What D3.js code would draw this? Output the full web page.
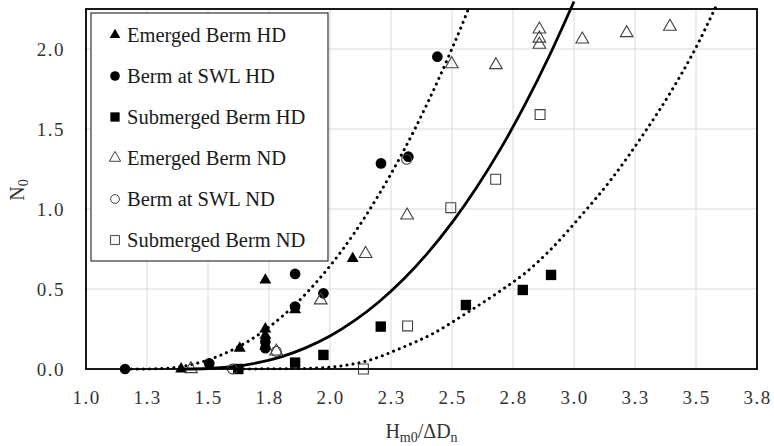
<!DOCTYPE html>
<html>
<head>
<meta charset="utf-8">
<script src="https://cdn.jsdelivr.net/npm/d3@7"></script>
<style>
  html, body { margin: 0; padding: 0; background: #fff; }
  svg { display: block; }
</style>
</head>
<body>
<svg id="chart" width="774" height="446"></svg>
<script>
// Damage number N0 against stability number Hm0/ΔDn
const emergedHD = [[1.39,0.0],[1.63,0.13],[1.735,0.556],[1.735,0.25],[1.735,0.21],[1.735,0.14],[1.857,0.37],[2.093,0.69]];
const swlHD = [[1.16,0.0],[1.505,0.035],[1.735,0.17],[1.735,0.13],[1.857,0.594],[1.857,0.39],[1.973,0.473],[2.209,1.285],[2.321,1.327],[2.44,1.952]];
const submergedHD = [[1.624,0.0],[1.857,0.04],[1.973,0.088],[2.208,0.265],[2.557,0.4],[2.79,0.494],[2.906,0.588]];
const emergedND = [[1.43,0.0],[1.78,0.11],[1.962,0.43],[2.146,0.72],[2.316,0.96],[2.499,1.906],[2.68,1.9],[2.858,2.123],[2.858,2.066],[2.858,2.028],[3.034,2.06],[3.216,2.1],[3.393,2.14]];
const swlND = [[1.6,0.0],[1.78,0.11],[2.314,1.31]];
const submergedND = [[2.137,0.0],[2.318,0.269],[2.495,1.008],[2.679,1.186],[2.861,1.59]];

// Fitted design curves (upper dotted, mean solid, lower dotted)
const upperCurve = [[1.16,0],[1.25,0],[1.35,0.007],[1.45,0.034],[1.55,0.085],[1.65,0.16],[1.75,0.262],[1.85,0.392],[1.95,0.553],[2.05,0.743],[2.15,0.966],[2.25,1.22],[2.35,1.507],[2.45,1.829],[2.55,2.184],[2.57,2.26]];
const meanCurve = [[1.4,0],[1.5,0.003],[1.6,0.014],[1.7,0.038],[1.8,0.076],[1.9,0.132],[2.0,0.206],[2.1,0.302],[2.2,0.419],[2.3,0.559],[2.4,0.724],[2.5,0.915],[2.6,1.133],[2.7,1.379],[2.8,1.655],[2.9,1.961],[3.0,2.297]];
const lowerCurve = [[1.62,0],[1.9,0.004],[2.05,0.02],[2.15,0.05],[2.29,0.13],[2.42,0.22],[2.56,0.35],[2.7,0.49],[2.8,0.6],[2.9,0.74],[3.03,0.96],[3.15,1.18],[3.29,1.48],[3.4,1.74],[3.5,2.01],[3.58,2.26]];

const xTicks = [1.0,1.25,1.5,1.75,2.0,2.25,2.5,2.75,3.0,3.25,3.5,3.75];
const xTickLabels = ["1.0","1.3","1.5","1.8","2.0","2.3","2.5","2.8","3.0","3.3","3.5","3.8"];
const yTicks = [0,0.5,1.0,1.5,2.0];
const yTickLabels = ["0.0","0.5","1.0","1.5","2.0"];

const seriesNames = ["Emerged Berm HD","Berm at SWL HD","Submerged Berm HD","Emerged Berm ND","Berm at SWL ND","Submerged Berm ND"];

const FONT = "'Liberation Serif', 'Times New Roman', serif";
const svg = d3.select("#chart");
const plotLeft = 86, plotRight = 757, plotTop = 9, plotBottom = 369;

const x = d3.scaleLinear().domain([1.0, 3.75]).range([plotLeft, plotRight]);
const y = d3.scaleLinear().domain([0, 2.25]).range([plotBottom, plotTop]);

// gridlines
const grid = svg.append("g");
grid.selectAll("line.v").data(xTicks.slice(1, -1)).join("line")
  .attr("class", "v")
  .attr("x1", d => x(d)).attr("x2", d => x(d))
  .attr("y1", plotTop).attr("y2", plotBottom)
  .attr("stroke", "#d9d9d9").attr("stroke-width", 1);
grid.selectAll("line.h").data(yTicks.slice(1)).join("line")
  .attr("class", "h")
  .attr("x1", plotLeft).attr("x2", plotRight)
  .attr("y1", d => y(d)).attr("y2", d => y(d))
  .attr("stroke", "#d9d9d9").attr("stroke-width", 1);

// axes (labels only)
const xAxis = d3.axisBottom(x).tickValues(xTicks)
  .tickFormat((d, i) => xTickLabels[i]).tickSize(0).tickPadding(0);
const gx = svg.append("g").attr("transform", `translate(0,${plotBottom})`).call(xAxis);
gx.select(".domain").remove();
gx.selectAll("text").attr("y", 35).attr("dy", 0)
  .style("font-family", FONT).style("font-size", "19px").style("letter-spacing", "1.5px")
  .attr("fill", "#333");

const yAxis = d3.axisLeft(y).tickValues(yTicks)
  .tickFormat((d, i) => yTickLabels[i]).tickSize(0).tickPadding(21);
const gy = svg.append("g").attr("transform", `translate(${plotLeft},0)`).call(yAxis);
gy.select(".domain").remove();
gy.selectAll("text").attr("dy", "0.35em")
  .style("font-family", FONT).style("font-size", "19px").style("letter-spacing", "1.5px")
  .attr("fill", "#333");

// curves
const line = d3.line().x(d => x(d[0])).y(d => y(d[1])).curve(d3.curveMonotoneX);
const curves = svg.append("g").attr("fill", "none").attr("stroke", "#000");
curves.append("path").datum(upperCurve).attr("d", line)
  .attr("stroke-width", 3).attr("stroke-dasharray", "0.1 6").attr("stroke-linecap", "round");
curves.append("path").datum(lowerCurve).attr("d", line)
  .attr("stroke-width", 3).attr("stroke-dasharray", "0.1 6").attr("stroke-linecap", "round");
curves.append("path").datum(meanCurve).attr("d", line).attr("stroke-width", 2.8);

// markers
const styles = [
  {type: d3.symbolTriangle, size: 62, fill: "#000", stroke: "none"},
  {type: d3.symbolCircle, size: 90, fill: "#000", stroke: "none"},
  {type: d3.symbolSquare, size: 108, fill: "#000", stroke: "none"},
  {type: d3.symbolTriangle, size: 70, fill: "none", stroke: "#404040"},
  {type: d3.symbolCircle, size: 76, fill: "none", stroke: "#404040"},
  {type: d3.symbolSquare, size: 98, fill: "none", stroke: "#404040"}
];
const allSeries = [emergedHD, swlHD, submergedHD, emergedND, swlND, submergedND];
const pts = svg.append("g");
allSeries.forEach((data, i) => {
  const st = styles[i];
  pts.append("g").selectAll("path").data(data).join("path")
    .attr("transform", d => `translate(${x(d[0])},${y(d[1])})`)
    .attr("d", d3.symbol().type(st.type).size(st.size))
    .attr("fill", st.fill).attr("stroke", st.stroke).attr("stroke-width", 1.1);
});

// plot frame
svg.append("rect").attr("x", plotLeft).attr("y", plotTop)
  .attr("width", plotRight - plotLeft).attr("height", plotBottom - plotTop)
  .attr("fill", "none").attr("stroke", "#000").attr("stroke-width", 1.8);

// legend
const lg = svg.append("g");
lg.append("rect").attr("x", 91).attr("y", 13).attr("width", 237).attr("height", 248)
  .attr("fill", "#fff").attr("stroke", "#333").attr("stroke-width", 1.2);
seriesNames.forEach((name, i) => {
  const cy = 35 + i * 41;
  const st = styles[i];
  lg.append("path").attr("transform", `translate(115,${cy})`)
    .attr("d", d3.symbol().type(st.type).size(st.size * 0.8))
    .attr("fill", st.fill).attr("stroke", st.stroke).attr("stroke-width", 1);
  lg.append("text").attr("x", 127).attr("y", cy + 7)
    .style("font-family", FONT).style("font-size", "20.5px")
    .attr("fill", "#1a1a1a").text(name);
});

// axis titles
const yt = svg.append("text").attr("transform", "translate(24,190) rotate(-90)")
  .attr("text-anchor", "middle").style("font-family", FONT).style("font-size", "20px").attr("fill", "#333");
yt.append("tspan").text("N");
yt.append("tspan").style("font-size", "14px").attr("dy", 4).text("0");

const xt = svg.append("text").attr("x", (plotLeft + plotRight) / 2).attr("y", 438)
  .attr("text-anchor", "middle").style("font-family", FONT).style("font-size", "20px").attr("fill", "#333");
xt.append("tspan").text("H");
xt.append("tspan").style("font-size", "14px").attr("dy", 4).text("m0");
xt.append("tspan").attr("dy", -4).text("/ΔD");
xt.append("tspan").style("font-size", "14px").attr("dy", 4).text("n");
</script>
</body>
</html>
